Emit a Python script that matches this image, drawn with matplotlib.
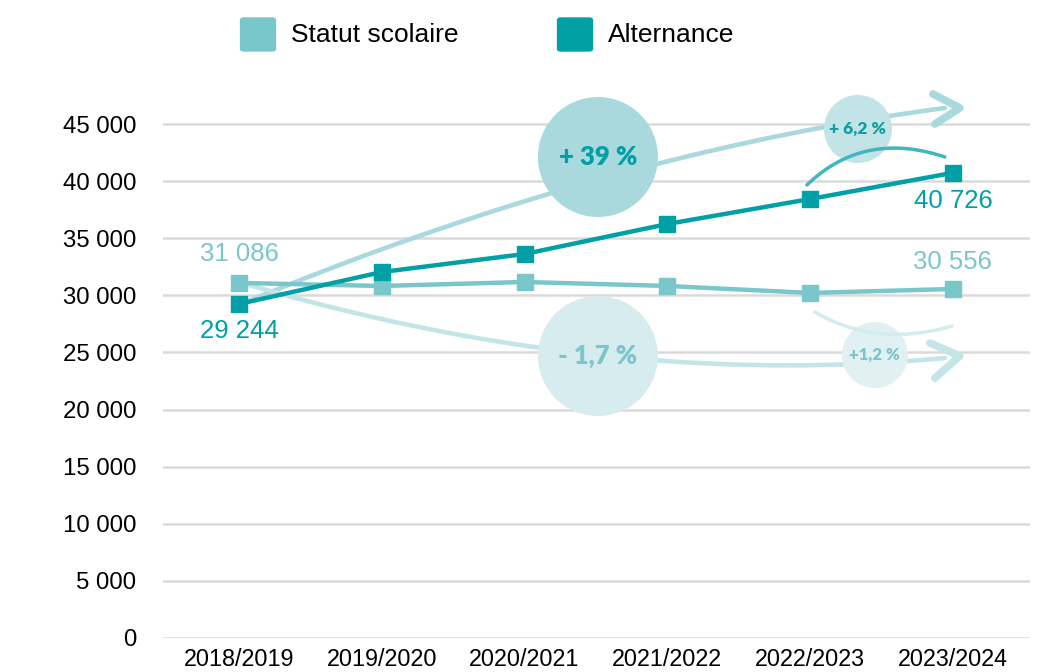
import numpy as np
import matplotlib
matplotlib.use("Agg")
import matplotlib.pyplot as plt
from matplotlib.patches import FancyBboxPatch

# data
years = ["2018/2019", "2019/2020", "2020/2021", "2021/2022", "2022/2023", "2023/2024"]
statut = [31086, 30820, 31170, 30820, 30210, 30556]
alternance = [29244, 32040, 33620, 36245, 38434, 40726]
yticks = [0, 5000, 10000, 15000, 20000, 25000, 30000, 35000, 40000, 45000]
ytick_labels = ["0", "5 000", "10 000", "15 000", "20 000", "25 000", "30 000", "35 000", "40 000", "45 000"]
growth_labels = ["+ 39 %", "- 1,7 %", "+ 6,2 %", "+1,2 %"]

c_light = "#7ac7cb"
c_dark = "#00a0a6"

W, H = 1038, 672
fig = plt.figure(figsize=(W / 100, H / 100), dpi=100)
ax_h = 48000 / 5000 * 57.11
ax = fig.add_axes([163 / W, 34 / H, (1030 - 163) / W, ax_h / H])
ax.set_xlim(-0.532, 5.54)
ax.set_ylim(0, 48000)

for s in ax.spines.values():
    s.set_visible(False)
ax.tick_params(length=0)
ax.set_yticks(yticks)
ax.set_yticklabels(ytick_labels, fontsize=17.3, family="Liberation Sans")
ax.tick_params(axis="y", pad=19)
ax.set_xticks(range(len(years)))
ax.set_xticklabels(years, fontsize=16.8, family="Liberation Sans")
ax.tick_params(axis="x", pad=7)
ax.grid(axis="y", color="#dadada", lw=1.8)
ax.set_axisbelow(True)


# helper: pixel position of the picture -> data coords (for decorations)
def px(x, y):
    return (x - 239) / 142.8, (638 - y) / 57.11 * 5000


def bez(p0, p1, p2, n=80):
    t = np.linspace(0, 1, n)[:, None]
    pts = (1 - t) ** 2 * np.array(p0) + 2 * t * (1 - t) * np.array(p1) + t ** 2 * np.array(p2)
    return np.array([px(*p) for p in pts])


# big trend arrows
up = bez((239, 305), (604, 153), (945, 108))
ax.plot(up[:, 0], up[:, 1], color="#a9d9dd", lw=3.3, solid_capstyle="round", zorder=2, clip_on=False)
chev = np.array([px(933, 94), px(960, 108), px(935, 124)])
ax.plot(chev[:, 0], chev[:, 1], color="#a9d9dd", lw=5.5, solid_capstyle="round",
        solid_joinstyle="round", zorder=2, clip_on=False)

down = bez((239, 282), (604, 390), (945, 358))
ax.plot(down[:, 0], down[:, 1], color="#c4e5e8", lw=3.3, solid_capstyle="round", zorder=2)
chev = np.array([px(930, 343), px(960, 356), px(935, 378)])
ax.plot(chev[:, 0], chev[:, 1], color="#c4e5e8", lw=5.5, solid_capstyle="round",
        solid_joinstyle="round", zorder=2)

# small arcs on last period
arc = bez((807, 185), (864, 130), (945, 157))
ax.plot(arc[:, 0], arc[:, 1], color="#3fb7bc", lw=2.5, solid_capstyle="round", zorder=4)
arc = bez((815, 312), (876, 348), (952, 326))
ax.plot(arc[:, 0], arc[:, 1], color="#d3ecee", lw=2.5, solid_capstyle="round", zorder=4)

# bubbles
bubbles = [((598, 157), 60, "#a9d9dd", c_dark, 18.5),
           ((598, 356), 60, "#d7ecef", "#7cc5ca", 18.5),
           ((858, 129), 34, "#c3e4e7", "#0e9ea3", 12.5),
           ((875, 355), 33, "#e1f1f3", "#7cc5ca", 12)]
for (cxy, r, fc, tc, fs), lab in zip(bubbles, growth_labels):
    x, y = px(*cxy)
    d = 2 * r * 0.72
    ax.scatter([x], [y], s=d ** 2, color=fc, edgecolors="none", zorder=3)
    ax.text(x, y, lab, ha="center", va="center", color=tc, fontsize=fs,
            fontweight="heavy", family="Lato", zorder=5)

# series
xs = np.arange(len(years))
ax.plot(xs, statut, color=c_light, lw=3.2, marker="s", ms=11.5, zorder=6)
ax.plot(xs, alternance, color=c_dark, lw=3.2, marker="s", ms=11.5, zorder=7)

# value labels
lab_kw = dict(ha="center", va="center", fontsize=18.5, family="Liberation Sans")
ax.text(0, statut[0] + 2550, "31 086", color=c_light, **lab_kw)
ax.text(0, alternance[0] - 2400, "29 244", color=c_dark, **lab_kw)
ax.text(5, alternance[-1] - 2450, "40 726", color=c_dark, **lab_kw)
ax.text(5, statut[-1] + 2400, "30 556", color=c_light, **lab_kw)

# legend
for x0, col, lab in [(240, c_light, "Statut scolaire"), (557, c_dark, "Alternance")]:
    box = FancyBboxPatch(((x0 + 4) / W, (672 - 49) / H), 28 / W, 29 / H,
                         boxstyle="round,pad=0.004", transform=fig.transFigure,
                         fc=col, ec="none")
    fig.patches.append(box)
    fig.text((x0 + 51) / W, (672 - 35) / H, lab, ha="left", va="center",
             fontsize=19, family="Liberation Sans")

fig.savefig("out.png", dpi=100)
